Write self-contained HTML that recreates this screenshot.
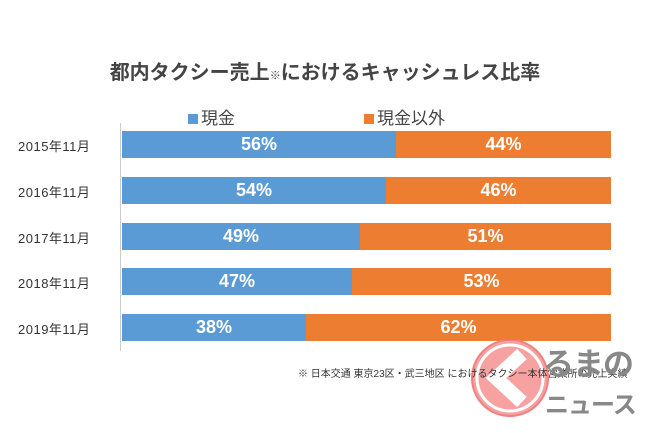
<!DOCTYPE html>
<html><head><meta charset="utf-8"><style>
body{margin:0;width:650px;height:433px;background:#fff;position:relative;overflow:hidden;font-family:"Liberation Sans","Noto Sans CJK JP",sans-serif}
.a{position:absolute;white-space:nowrap}
.bar{position:absolute;height:27px;color:#fff;font-weight:bold;font-size:18px;line-height:27px;text-align:center}
.b{background:#5b9bd5}.o{background:#ed7d31}
.lab{position:absolute;left:18px;font-size:13px;color:#333;letter-spacing:0.5px;white-space:nowrap}
</style></head><body>
<div class="a" style="left:0;width:650px;top:56px;text-align:center;font-size:20px;color:#444;font-weight:bold">都内タクシー売上<span style="font-size:11px">※</span>におけるキャッシュレス比率</div>
<div class="a" style="left:188px;top:104px;font-size:17px;color:#444"><span style="display:inline-block;width:10px;height:10px;background:#5b9bd5;margin-right:3px"></span>現金</div>
<div class="a" style="left:364px;top:104px;font-size:17px;color:#444"><span style="display:inline-block;width:10px;height:10px;background:#ed7d31;margin-right:3px"></span>現金以外</div>
<div class="a" style="left:120px;top:123px;width:1px;height:228px;background:#ccc"></div>
<div class="lab" style="top:136px">2015年11月</div>
<div class="bar b" style="left:122px;top:131px;width:274px">56%</div><div class="bar o" style="left:396px;top:131px;width:215px">44%</div>
<div class="lab" style="top:182px">2016年11月</div>
<div class="bar b" style="left:122px;top:177px;width:264px">54%</div><div class="bar o" style="left:386px;top:177px;width:225px">46%</div>
<div class="lab" style="top:228px">2017年11月</div>
<div class="bar b" style="left:122px;top:223px;width:238px">49%</div><div class="bar o" style="left:360px;top:223px;width:251px">51%</div>
<div class="lab" style="top:273px">2018年11月</div>
<div class="bar b" style="left:122px;top:268px;width:230px">47%</div><div class="bar o" style="left:352px;top:268px;width:259px">53%</div>
<div class="lab" style="top:319px">2019年11月</div>
<div class="bar b" style="left:122px;top:314px;width:184px">38%</div><div class="bar o" style="left:306px;top:314px;width:305px">62%</div>
<svg class="a" style="left:460px;top:340px" width="100" height="93"><circle cx="50" cy="38" r="38" fill="#f7a1a1" stroke="#f08080" stroke-width="2"/><circle cx="50" cy="38" r="33" fill="none" stroke="#fff" stroke-width="3"/><path d="M62 14 L36 38 L62 62" fill="none" stroke="#fff" stroke-width="14"/></svg>
<div class="a" style="left:298px;top:365px;font-size:10px;color:#333">※ 日本交通 東京23区・武三地区 におけるタクシー本体営業所の売上実績</div>
<div class="a" style="left:543px;top:345px;font-size:31px;line-height:40px;font-weight:bold;color:#888;letter-spacing:-1px">るまの</div>
<div class="a" style="left:545px;top:390px;font-size:24px;line-height:32px;font-weight:bold;color:#888;letter-spacing:-1px">ニュース</div>
</body></html>
